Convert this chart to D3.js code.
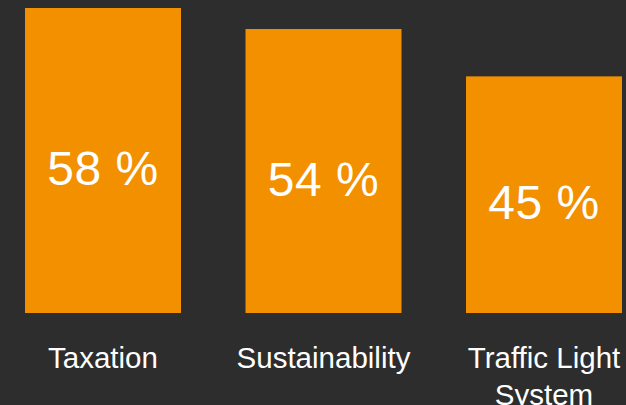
<!DOCTYPE html>
<html>
<head>
<meta charset="utf-8">
<script src="https://cdn.jsdelivr.net/npm/d3@7"></script>
<style>
  html, body { margin: 0; padding: 0; background: #2d2d2d; }
  svg { display: block; font-family: "Liberation Sans", Arial, Helvetica, sans-serif; }
</style>
</head>
<body>
<div id="chart"></div>
<script>
const categories = ["Taxation", "Sustainability", "Traffic Light System"];
const values = [58, 54, 45];

const width = 626, height = 405;
const data = categories.map((c, i) => ({ name: c, value: values[i] }));

const svg = d3.select("#chart")
  .append("svg")
  .attr("width", width)
  .attr("height", height);

const x = d3.scaleBand()
  .domain(categories)
  .range([25, 622])
  .paddingInner(0.2925)
  .paddingOuter(0);

const y = d3.scaleLinear()
  .domain([0, 58])
  .range([313, 8]);

svg.selectAll("rect")
  .data(data)
  .join("rect")
  .attr("x", d => x(d.name))
  .attr("y", d => y(d.value))
  .attr("width", x.bandwidth())
  .attr("height", d => y(0) - y(d.value))
  .attr("fill", "#f39000");

// value labels inside bars
svg.selectAll("text.val")
  .data(data)
  .join("text")
  .attr("class", "val")
  .attr("x", d => x(d.name) + x.bandwidth() / 2)
  .attr("y", d => (y(d.value) + y(0)) / 2 + 24.5)
  .attr("text-anchor", "middle")
  .attr("fill", "#fff")
  .style("font-size", "48px")
  .style("letter-spacing", "0.5px")
  .text(d => d.value + " %");

// category labels, wrapped to the band step
const maxW = x.step();
const labels = svg.selectAll("text.cat")
  .data(data)
  .join("text")
  .attr("class", "cat")
  .attr("x", d => x(d.name) + x.bandwidth() / 2)
  .attr("y", 368)
  .attr("text-anchor", "middle")
  .attr("fill", "#fff")
  .style("font-size", "29.5px");

labels.each(function (d) {
  const t = d3.select(this);
  const words = d.name.split(" ");
  let line = [];
  let tspan = t.append("tspan").attr("x", t.attr("x")).attr("dy", 0);
  words.forEach(w => {
    line.push(w);
    tspan.text(line.join(" "));
    if (tspan.node().getComputedTextLength() > maxW && line.length > 1) {
      line.pop();
      tspan.text(line.join(" "));
      line = [w];
      tspan = t.append("tspan").attr("x", t.attr("x")).attr("dy", "1.24em").text(w);
    }
  });
});
</script>
</body>
</html>
